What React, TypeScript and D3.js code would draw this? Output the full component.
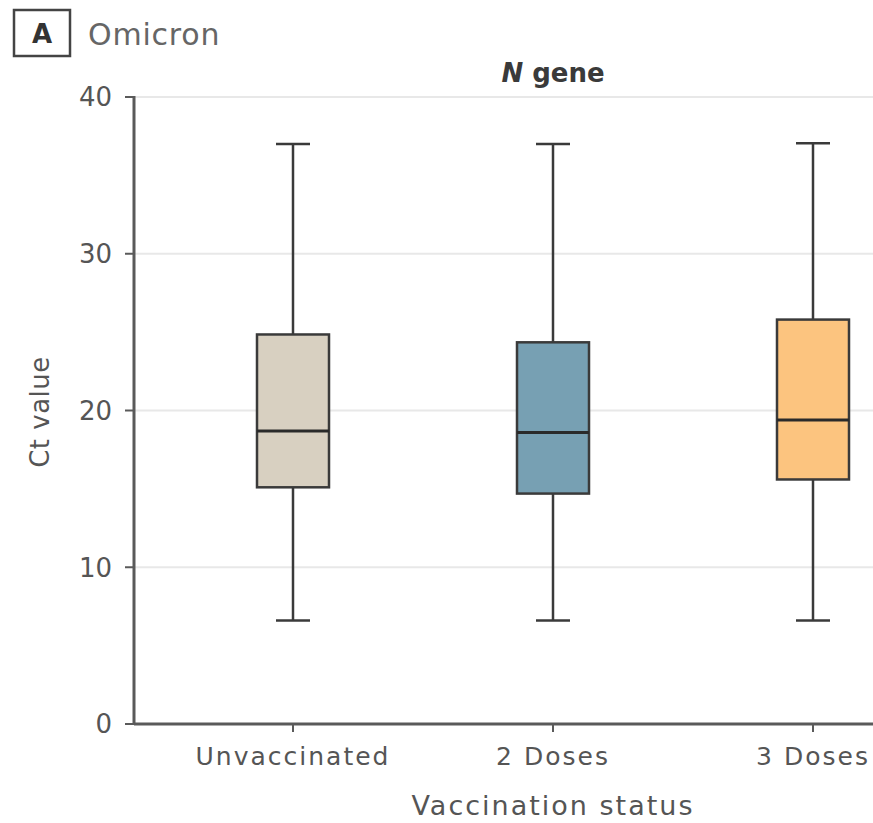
import React from "react";
import * as d3 from "d3";

const categories = ["Unvaccinated", "2 Doses", "3 Doses"];
const whiskerLow = [6.6, 6.6, 6.6];
const q1 = [15.1, 14.7, 15.6];
const median = [18.7, 18.6, 19.4];
const q3 = [24.85, 24.35, 25.8];
const whiskerHigh = [37.0, 37.0, 37.05];
const fills = ["#d8d0c1", "#77a0b3", "#fcc47f"];
const yTicks = [0, 10, 20, 30, 40];

const W = 873;
const H = 823;
const FONT = "'DejaVu Sans', 'Open Sans', sans-serif";

export default function App() {
  const left = 134;
  const right = 873;
  const top = 97;
  const bottom = 724;

  const y = d3.scaleLinear().domain([0, 40]).range([bottom, top]);
  const x = d3.scalePoint<string>().domain(categories).range([293, 813]);
  const boxW = 72;
  const capW = 34;
  const ink = "#3a3a3a";
  const axisCol = "#5a5a5a";
  const textCol = "#555";

  return (
    <svg width={W} height={H} style={{ position: "absolute", left: 0, top: 0, background: "#fff" }} fontFamily={FONT}>
      {/* panel tag and title */}
      <rect x={14} y={10} width={56} height={46} fill="none" stroke="#444" strokeWidth={2.5} />
      <text x={42} y={43} textAnchor="middle" fontSize={26} fontWeight={700} fill="#333">A</text>
      <text x={88} y={45} fontSize={30} fill="#666" letterSpacing={0.8}>Omicron</text>
      <text x={x("2 Doses")!} y={82} textAnchor="middle" fontSize={26} fontWeight={700} fill="#3a3a3a">
        <tspan fontStyle="italic">N</tspan> gene
      </text>

      {/* gridlines */}
      {yTicks.filter((t) => t > 0).map((t) => (
        <line key={t} x1={left} x2={right} y1={y(t)} y2={y(t)} stroke="#e8e8e8" strokeWidth={2} />
      ))}

      {/* boxes */}
      {categories.map((c, i) => {
        const cx = x(c)!;
        return (
          <g key={c}>
            <line x1={cx} x2={cx} y1={y(whiskerHigh[i])} y2={y(q3[i])} stroke={ink} strokeWidth={2.5} />
            <line x1={cx} x2={cx} y1={y(q1[i])} y2={y(whiskerLow[i])} stroke={ink} strokeWidth={2.5} />
            <line x1={cx - capW / 2} x2={cx + capW / 2} y1={y(whiskerHigh[i])} y2={y(whiskerHigh[i])} stroke={ink} strokeWidth={2.5} />
            <line x1={cx - capW / 2} x2={cx + capW / 2} y1={y(whiskerLow[i])} y2={y(whiskerLow[i])} stroke={ink} strokeWidth={2.5} />
            <rect x={cx - boxW / 2} y={y(q3[i])} width={boxW} height={y(q1[i]) - y(q3[i])} fill={fills[i]} stroke={ink} strokeWidth={2.5} />
            <line x1={cx - boxW / 2} x2={cx + boxW / 2} y1={y(median[i])} y2={y(median[i])} stroke="#2a2a2a" strokeWidth={3} />
          </g>
        );
      })}

      {/* y axis */}
      <line x1={left} x2={left} y1={top - 1} y2={bottom + 1} stroke={axisCol} strokeWidth={3} />
      {yTicks.map((t) => (
        <g key={t}>
          <line x1={left - 9} x2={left} y1={y(t)} y2={y(t)} stroke={axisCol} strokeWidth={2} />
          <text x={left - 22} y={y(t)} dy="0.36em" textAnchor="end" fontSize={26} fill={textCol}>{t}</text>
        </g>
      ))}
      <text transform={`translate(49, ${412}) rotate(-90)`} textAnchor="middle" fontSize={26} fill={textCol} letterSpacing={0.5}>Ct value</text>

      {/* x axis */}
      <line x1={left} x2={right} y1={bottom} y2={bottom} stroke={axisCol} strokeWidth={3} />
      {categories.map((c) => (
        <g key={c}>
          <line x1={x(c)!} x2={x(c)!} y1={bottom} y2={bottom + 8} stroke={axisCol} strokeWidth={2} />
          <text x={x(c)!} y={bottom + 41} textAnchor="middle" fontSize={25} fill={textCol} letterSpacing={2}>{c}</text>
        </g>
      ))}
      <text x={553} y={bottom + 91} textAnchor="middle" fontSize={27} fill={textCol} letterSpacing={2}>Vaccination status</text>
    </svg>
  );
}
